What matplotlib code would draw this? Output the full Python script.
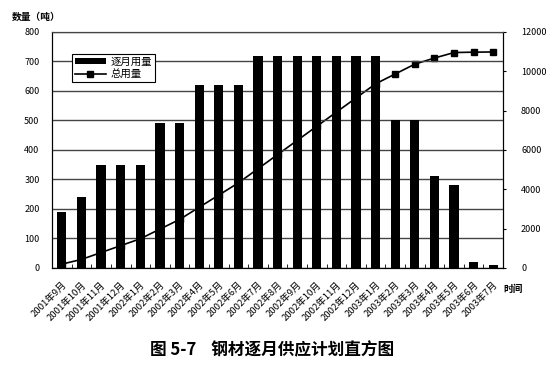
import matplotlib.pyplot as plt

plt.rcParams['font.family'] = ['Noto Sans CJK SC', 'DejaVu Sans']

months = ['2001年9月', '2001年10月', '2001年11月', '2001年12月',
          '2002年1月', '2002年2月', '2002年3月', '2002年4月', '2002年5月',
          '2002年6月', '2002年7月', '2002年8月', '2002年9月', '2002年10月',
          '2002年11月', '2002年12月', '2003年1月', '2003年2月', '2003年3月',
          '2003年4月', '2003年5月', '2003年6月', '2003年7月']
monthly = [190, 240, 350, 350, 350, 490, 490, 620, 620, 620, 720, 720,
           720, 720, 720, 720, 720, 500, 500, 310, 280, 20, 10]
total = [190, 430, 780, 1130, 1480, 1970, 2460, 3080, 3700, 4320, 5040,
         5760, 6480, 7200, 7920, 8640, 9360, 9860, 10360, 10670, 10950,
         10970, 10980]

fig = plt.figure(figsize=(5.54, 3.71), dpi=100)
ax = fig.add_axes([0.094, 0.278, 0.814, 0.636])
ax2 = ax.twinx()

x = list(range(len(months)))

# bars over the line so the markers hide inside them
ax2.plot(x, total, color='black', linewidth=1.2, marker='s', markersize=4.5,
         label='总用量', zorder=1)
ax.bar(x, monthly, width=0.47, color='black', label='逐月用量', zorder=3)

ax.set_zorder(ax2.get_zorder() + 1)
ax.patch.set_visible(False)

ax.set_xlim(-0.5, len(months) - 0.5)
ax.set_ylim(0, 800)
ax.set_yticks(range(0, 801, 100))
ax.yaxis.grid(True, color='#444444', linewidth=1.0)
ax.set_axisbelow(True)
ax.tick_params(axis='y', length=0, pad=9, labelsize=6.5)

ax.set_xticks(x)
ax.set_xticklabels(months, rotation=45, ha='right', rotation_mode='anchor',
                   fontsize=6.8)
ax.tick_params(axis='x', length=0, pad=9)
ax.set_xticks([i + 0.5 for i in x[:-1]], minor=True)
ax.tick_params(axis='x', which='minor', direction='in', length=3, color='black')

ax2.set_ylim(0, 12000)
ax2.set_yticks(range(0, 12001, 2000))
ax2.tick_params(axis='y', length=2, pad=11, labelsize=6.5)

for a in (ax, ax2):
    a.spines['top'].set_color('#444444')
    a.spines['left'].set_color('black')
    a.spines['right'].set_color('black')
    a.spines['bottom'].set_color('black')

h1, l1 = ax.get_legend_handles_labels()
h2, l2 = ax2.get_legend_handles_labels()
leg = ax.legend(h1 + h2, l1 + l2, loc='upper left',
                bbox_to_anchor=(0.044, 0.905), borderaxespad=0,
                fontsize=7.5, fancybox=False, framealpha=1,
                edgecolor='black', handlelength=3.0, handleheight=0.55,
                borderpad=0.25, labelspacing=0.25, handletextpad=0.5)
leg.get_frame().set_linewidth(0.8)

fig.text(12 / 554, 1 - 17 / 371, '数量（吨）', fontsize=7, fontweight='bold',
         ha='left', va='center')
fig.text(503 / 554, 1 - 289 / 371, '时间', fontsize=7, fontweight='bold',
         ha='left', va='center')
fig.text(272 / 554, 1 - 350 / 371, '图 5-7    钢材逐月供应计划直方图',
         fontsize=12, fontweight='bold', ha='center', va='center')

plt.savefig('out.png', dpi=100)
